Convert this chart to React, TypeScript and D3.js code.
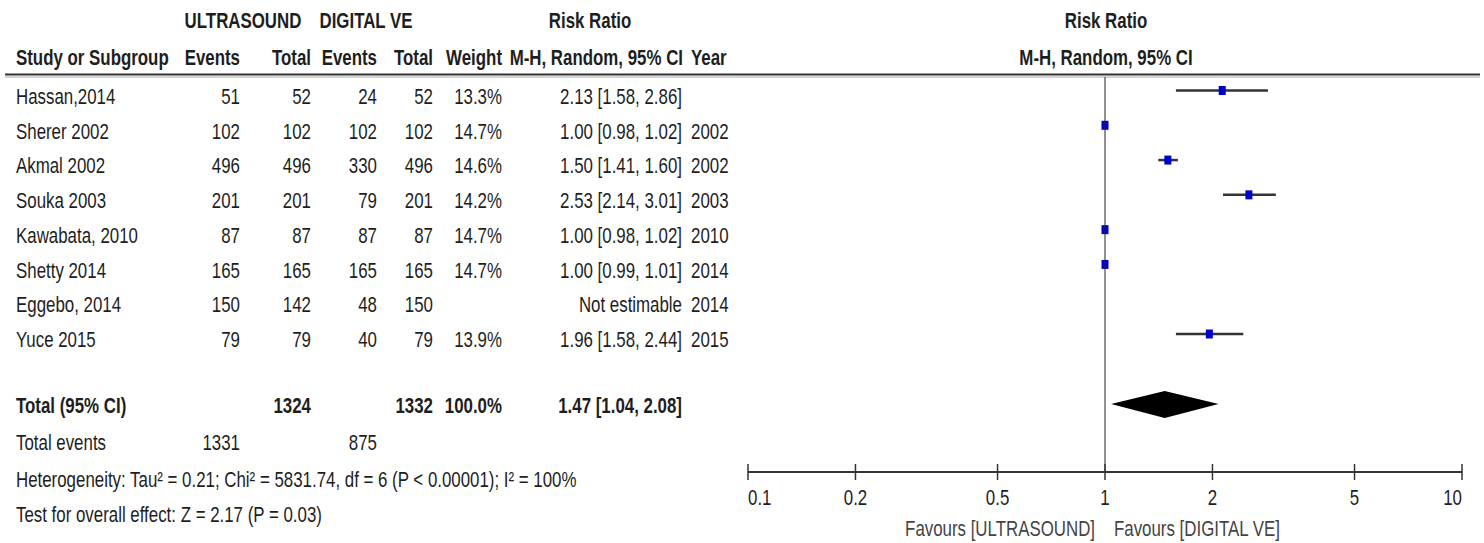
import React from "react";
import * as d3 from "d3";

const studies = ["Hassan,2014", "Sherer 2002", "Akmal 2002", "Souka 2003", "Kawabata, 2010", "Shetty 2014", "Eggebo, 2014", "Yuce 2015"];
const usEvents = [51, 102, 496, 201, 87, 165, 150, 79];
const usTotal = [52, 102, 496, 201, 87, 165, 142, 79];
const dveEvents = [24, 102, 330, 79, 87, 165, 48, 40];
const dveTotal = [52, 102, 496, 201, 87, 165, 150, 79];
const weights: (number | null)[] = [13.3, 14.7, 14.6, 14.2, 14.7, 14.7, null, 13.9];
const rr: (number | null)[] = [2.13, 1.0, 1.5, 2.53, 1.0, 1.0, null, 1.96];
const lo: (number | null)[] = [1.58, 0.98, 1.41, 2.14, 0.98, 0.99, null, 1.58];
const hi: (number | null)[] = [2.86, 1.02, 1.6, 3.01, 1.02, 1.01, null, 2.44];
const years = ["", "2002", "2002", "2003", "2010", "2014", "2014", "2015"];

const totalUS = 1324;
const totalDVE = 1332;
const totalWeight = 100.0;
const pooled = { rr: 1.47, lo: 1.04, hi: 2.08 };
const totalEventsUS = 1331;
const totalEventsDVE = 875;
const heterogeneity = "Heterogeneity: Tau² = 0.21; Chi² = 5831.74, df = 6 (P < 0.00001); I² = 100%";
const overall = "Test for overall effect: Z = 2.17 (P = 0.03)";
const axisTicks = [0.1, 0.2, 0.5, 1, 2, 5, 10];
const favLeft = "Favours [ULTRASOUND]";
const favRight = "Favours [DIGITAL VE]";

const FONT = "'Liberation Sans', Arial, sans-serif";
const TXT = "#1e1e1e";
const FS = 21.5;
const SX = 0.785;

function Tx({ x, y, anchor = "start", bold = false, fill = TXT, children }: any) {
  return (
    <text
      transform={`translate(${x},${y}) scale(${SX},1)`}
      textAnchor={anchor}
      fontWeight={bold ? "bold" : "normal"}
      fontFamily={FONT}
      fontSize={FS}
      fill={fill}
    >
      {children}
    </text>
  );
}

export default function App() {
  const x = d3.scaleLog().domain([0.1, 10]).range([748, 1462]);
  const rowBase = d3.scaleLinear().domain([0, 7]).range([104, 347]);
  const markY = d3.scaleLinear().domain([0, 7]).range([90.5, 334]);
  const f2 = d3.format(".2f");
  const f1 = d3.format(".1f");
  const ci = (a: number, b: number, c: number) => `${f2(a)} [${f2(b)}, ${f2(c)}]`;
  const totalY = 405;
  const axisY = 472;
  return (
    <svg width={1484} height={543} style={{ display: "block", position: "absolute", left: 0, top: 0 }}>
      <rect width={1484} height={543} fill="#fff" />
      {/* headers */}
      <Tx x={243} y={28} anchor="middle" bold>ULTRASOUND</Tx>
      <Tx x={366} y={28} anchor="middle" bold>DIGITAL VE</Tx>
      <Tx x={590} y={28} anchor="middle" bold>Risk Ratio</Tx>
      <Tx x={1106} y={28} anchor="middle" bold>Risk Ratio</Tx>
      <Tx x={16} y={65} bold>Study or Subgroup</Tx>
      <Tx x={240} y={65} anchor="end" bold>Events</Tx>
      <Tx x={311} y={65} anchor="end" bold>Total</Tx>
      <Tx x={377} y={65} anchor="end" bold>Events</Tx>
      <Tx x={433} y={65} anchor="end" bold>Total</Tx>
      <Tx x={502} y={65} anchor="end" bold>Weight</Tx>
      <Tx x={683} y={65} anchor="end" bold>M-H, Random, 95% CI</Tx>
      <Tx x={691} y={65} bold>Year</Tx>
      <Tx x={1106} y={65} anchor="middle" bold>M-H, Random, 95% CI</Tx>
      <line x1={5} x2={1480} y1={74.5} y2={74.5} stroke="#333" strokeWidth={2} />
      <line x1={5} x2={1480} y1={77} y2={77} stroke="#aaa" strokeWidth={1} />
      {/* rows */}
      {studies.map((s, i) => (
        <g key={s}>
          <Tx x={16} y={rowBase(i)}>{s}</Tx>
          <Tx x={240} y={rowBase(i)} anchor="end">{usEvents[i]}</Tx>
          <Tx x={311} y={rowBase(i)} anchor="end">{usTotal[i]}</Tx>
          <Tx x={377} y={rowBase(i)} anchor="end">{dveEvents[i]}</Tx>
          <Tx x={433} y={rowBase(i)} anchor="end">{dveTotal[i]}</Tx>
          <Tx x={502} y={rowBase(i)} anchor="end">{weights[i] != null ? f1(weights[i] as number) + "%" : ""}</Tx>
          <Tx x={682} y={rowBase(i)} anchor="end">
            {rr[i] != null ? ci(rr[i] as number, lo[i] as number, hi[i] as number) : "Not estimable"}
          </Tx>
          <Tx x={691} y={rowBase(i)}>{years[i]}</Tx>
          {rr[i] != null && (
            <g>
              <line x1={x(lo[i] as number)} x2={x(hi[i] as number)} y1={markY(i)} y2={markY(i)} stroke="#333" strokeWidth={2.5} />
              <rect x={x(rr[i] as number) - 3.5} y={markY(i) - 4.5} width={7} height={9} fill="#0000cc" />
            </g>
          )}
        </g>
      ))}
      {/* totals */}
      <Tx x={16} y={totalY + 8} bold>Total (95% CI)</Tx>
      <Tx x={311} y={totalY + 8} anchor="end" bold>{totalUS}</Tx>
      <Tx x={433} y={totalY + 8} anchor="end" bold>{totalDVE}</Tx>
      <Tx x={502} y={totalY + 8} anchor="end" bold>{f1(totalWeight) + "%"}</Tx>
      <Tx x={682} y={totalY + 8} anchor="end" bold>{ci(pooled.rr, pooled.lo, pooled.hi)}</Tx>
      <Tx x={16} y={450}>Total events</Tx>
      <Tx x={240} y={450} anchor="end">{totalEventsUS}</Tx>
      <Tx x={377} y={450} anchor="end">{totalEventsDVE}</Tx>
      <Tx x={16} y={487}>{heterogeneity}</Tx>
      <Tx x={16} y={522}>{overall}</Tx>
      {/* null line */}
      <line x1={x(1)} x2={x(1)} y1={77} y2={axisY} stroke="#222" strokeWidth={1} />
      {/* diamond */}
      <path
        d={`M${x(pooled.lo)},${totalY - 1} L${x(pooled.rr)},${totalY - 14} L${x(pooled.hi)},${totalY - 1} L${x(pooled.rr)},${totalY + 13} Z`}
        fill="#000"
      />
      {/* axis */}
      <line x1={x(0.1)} x2={x(10)} y1={axisY} y2={axisY} stroke="#333" strokeWidth={2} />
      {axisTicks.map((t, i) => (
        <g key={t}>
          <line x1={x(t)} x2={x(t)} y1={axisY - 8} y2={axisY + 8} stroke="#333" strokeWidth={1.5} />
          <Tx x={x(t)} y={505} anchor={i === 0 ? "start" : i === axisTicks.length - 1 ? "end" : "middle"}>
            {String(t)}
          </Tx>
        </g>
      ))}
      <Tx x={x(1) - 10} y={536} anchor="end" fill="#444">{favLeft}</Tx>
      <Tx x={x(1) + 9} y={536} fill="#444">{favRight}</Tx>
    </svg>
  );
}
